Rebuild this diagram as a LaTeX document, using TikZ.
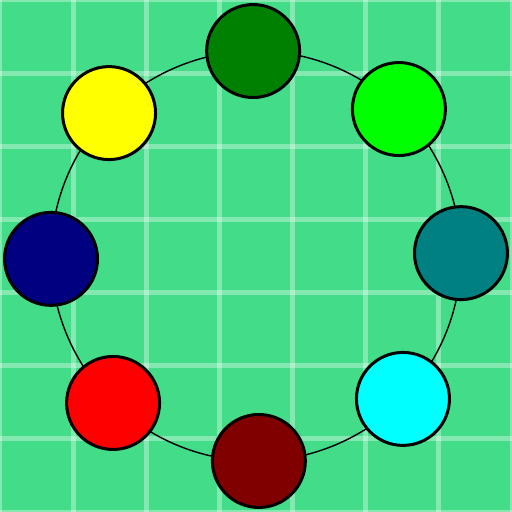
\documentclass[tikz,border=0pt]{standalone}
\usepackage{xcolor}
\usetikzlibrary{calc}
\definecolor{BgGreen}{HTML}{43DC88}
\definecolor{BallTeal}{HTML}{008080}
\definecolor{BallLime}{HTML}{00FF00}
\definecolor{BallGreen}{HTML}{008000}
\definecolor{BallYellow}{HTML}{FFFF00}
\definecolor{BallNavy}{HTML}{000080}
\definecolor{BallRed}{HTML}{FF0000}
\definecolor{BallMaroon}{HTML}{800000}
\definecolor{BallCyan}{HTML}{00FFFF}
\tikzset{
    % Round coloured stations
    ball/.style={
        circle,
        draw=black,
        line width=1.7pt,
        minimum size=1.86cm,
        inner sep=0pt
    },
    gridline/.style={
        draw=white,
        draw opacity=0.35,
        line width=2.8pt
    },
    ring/.style={
        draw=black,
        line width=0.8pt,
        bend right=22.5,
        looseness=0.885
    }
}

\begin{document}
\begin{tikzpicture}[x=0.02cm, y=0.02cm]
        % Background and grid
        \fill[BgGreen] (0,0) rectangle (512,512);
        \useasboundingbox (0,0) rectangle (512,512);
        \foreach \k in {0,...,7} {
            \path[gridline] ({\k*512/7},0) -- ({\k*512/7},512);
            \path[gridline] (0,{\k*512/7}) -- (512,{\k*512/7});
        }
        \coordinate (centre) at (256,256);

        % Places round the ring
        \foreach \name [count=\i from 0] in {Teal,Lime,Green,Yellow,Navy,Red,Maroon,Cyan} {
            \coordinate (p\name) at ($(centre)+({45*\i+0.8}:205)$);
        }

        % Ring
        \draw[ring] (pTeal) to (pLime);
        \draw[ring] (pLime) to (pGreen);
        \draw[ring] (pGreen) to (pYellow);
        \draw[ring] (pYellow) to (pNavy);
        \draw[ring] (pNavy) to (pRed);
        \draw[ring] (pRed) to (pMaroon);
        \draw[ring] (pMaroon) to (pCyan);
        \draw[ring] (pCyan) to (pTeal);

        % Stations
        \foreach \name in {Teal,Lime,Green,Yellow,Navy,Red,Maroon,Cyan} {
            \node[ball, fill=Ball\name] (\name) at (p\name) {};
        }
    \end{tikzpicture}
\end{document}
